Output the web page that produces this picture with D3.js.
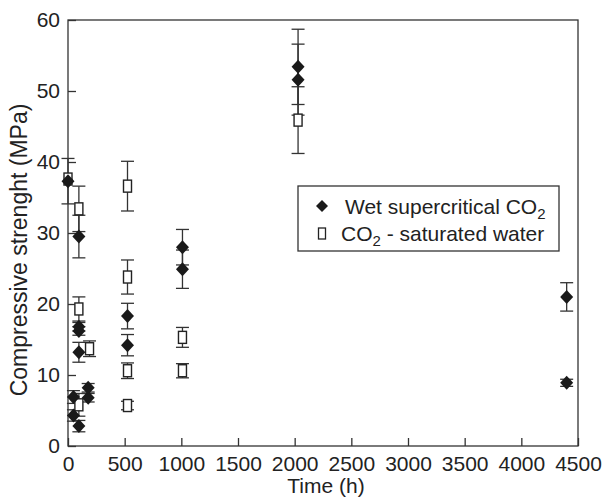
<!DOCTYPE html>
<html>
<head>
<meta charset="utf-8">
<script src="https://cdn.jsdelivr.net/npm/d3@7"></script>
<style>
  body { margin: 0; background: #fff; }
  text { font-family: "Liberation Sans", Arial, sans-serif; fill: #222; }
</style>
</head>
<body>
<div id="chart"></div>
<script>
// wet supercritical CO2 (filled diamonds)
const wetTime  = [0, 48, 48, 96, 96, 96, 96, 96, 178, 178, 525, 525, 1010, 1010, 2030, 2030, 4400, 4400];
const wetValue = [37.3, 6.9, 4.3, 2.8, 13.2, 16.2, 16.8, 29.5, 6.8, 8.2, 14.2, 18.3, 24.9, 28.0, 51.6, 53.4, 8.9, 21.0];
const wetErr   = [3.2, 0.9, 0.8, 0.8, 1.4, 0.6, 0.6, 3.0, 0.6, 0.6, 1.5, 1.8, 2.7, 2.5, 5.0, 5.3, 0.5, 2.0];

// CO2 - saturated water (open squares)
const satTime  = [0, 96, 96, 96, 190, 525, 525, 525, 525, 1010, 1010, 2030];
const satValue = [37.6, 33.4, 19.3, 5.8, 13.7, 36.6, 23.8, 10.6, 5.7, 15.3, 10.6, 45.9];
const satErr   = [0, 3.2, 1.7, 1.6, 1.1, 3.5, 2.4, 1.1, 0.6, 1.4, 1.0, 4.7];

const xTicks = [0, 500, 1000, 1500, 2000, 2500, 3000, 3500, 4000, 4500];
const yTicks = [0, 10, 20, 30, 40, 50, 60];

const legendLabels = ["Wet supercritical CO", "CO"];

var W = 608, H = 497;
var mLeft = 68, mRight = 578, mTop = 20, mBottom = 446;

var svg = d3.select("#chart")
    .append("svg")
    .attr("width", W)
    .attr("height", H);

var x = d3.scaleLinear().domain([0, 4500]).range([mLeft, mRight]);
var y = d3.scaleLinear().domain([0, 60]).range([mBottom, mTop]);

var axisColor = "#333";
var fontSize = "21px";

// frame
svg.append("rect")
    .attr("x", mLeft).attr("y", mTop)
    .attr("width", mRight - mLeft).attr("height", mBottom - mTop)
    .attr("fill", "none").attr("stroke", axisColor).attr("stroke-width", 1.3);

// x axis, ticks pointing inward
var xAxis = svg.append("g")
    .attr("transform", "translate(0," + mBottom + ")")
    .call(d3.axisBottom(x).tickValues(xTicks).tickFormat(d3.format("d"))
        .tickSizeInner(-8).tickSizeOuter(0).tickPadding(10));
xAxis.select(".domain").remove();
xAxis.selectAll("line").attr("stroke", axisColor).attr("stroke-width", 1.3);
xAxis.selectAll("text").style("font-size", fontSize).attr("fill", "#222")
    .style("font-family", "Liberation Sans, Arial, sans-serif");

var yAxis = svg.append("g")
    .attr("transform", "translate(" + mLeft + ",0)")
    .call(d3.axisLeft(y).tickValues(yTicks).tickFormat(d3.format("d"))
        .tickSizeInner(-8).tickSizeOuter(0).tickPadding(8));
yAxis.select(".domain").remove();
yAxis.selectAll("line").attr("stroke", axisColor).attr("stroke-width", 1.3);
yAxis.selectAll("text").style("font-size", fontSize).attr("fill", "#222")
    .style("font-family", "Liberation Sans, Arial, sans-serif");

// axis titles
svg.append("text")
    .attr("x", (mLeft + mRight) / 2 + 3).attr("y", 493)
    .attr("text-anchor", "middle")
    .style("font-size", fontSize)
    .text("Time (h)");

svg.append("text")
    .attr("transform", "translate(27,250) rotate(-90)")
    .attr("text-anchor", "middle")
    .style("font-size", "23px")
    .text("Compressive strenght (MPa)");

// build point lists
var wet = wetTime.map(function (t, i) { return {t: t, v: wetValue[i], e: wetErr[i]}; });
var sat = satTime.map(function (t, i) { return {t: t, v: satValue[i], e: satErr[i]}; });

function errorBars(data) {
    var cap = 6.5;
    var g = svg.append("g").attr("stroke", axisColor).attr("stroke-width", 1.3);
    data.filter(function (d) { return d.e > 0; }).forEach(function (d) {
        var cx = x(d.t), y1 = y(d.v + d.e), y2 = y(d.v - d.e);
        g.append("line").attr("x1", cx).attr("x2", cx).attr("y1", y1).attr("y2", y2);
        g.append("line").attr("x1", cx - cap).attr("x2", cx + cap).attr("y1", y1).attr("y2", y1);
        g.append("line").attr("x1", cx - cap).attr("x2", cx + cap).attr("y1", y2).attr("y2", y2);
    });
}

errorBars(sat);
errorBars(wet);

var diamondPath = "M0,-7L6.5,0L0,7L-6.5,0Z";

svg.selectAll(".sat")
    .data(sat)
    .enter().append("rect")
    .attr("class", "sat")
    .attr("x", function (d) { return x(d.t) - 4; })
    .attr("y", function (d) { return y(d.v) - 6; })
    .attr("width", 8).attr("height", 12)
    .attr("fill", "#fff").attr("stroke", "#222").attr("stroke-width", 1.4);

svg.selectAll(".wet")
    .data(wet)
    .enter().append("path")
    .attr("class", "wet")
    .attr("d", diamondPath)
    .attr("transform", function (d) { return "translate(" + x(d.t) + "," + y(d.v) + ")"; })
    .attr("fill", "#1a1a1a");

// legend
var lg = svg.append("g");
lg.append("rect")
    .attr("x", 298).attr("y", 186).attr("width", 261).attr("height", 65)
    .attr("fill", "#fff").attr("stroke", axisColor).attr("stroke-width", 1.3);
lg.append("path").attr("d", "M0,-6L6,0L0,6L-6,0Z").attr("transform", "translate(322,206)").attr("fill", "#1a1a1a");
lg.append("rect").attr("x", 318.5).attr("y", 228).attr("width", 7).attr("height", 11)
    .attr("fill", "#fff").attr("stroke", "#222").attr("stroke-width", 1.3);

var t1 = lg.append("text").attr("x", 345).attr("y", 214).style("font-size", fontSize);
t1.append("tspan").text(legendLabels[0]);
t1.append("tspan").attr("dy", 5).style("font-size", "15px").text("2");

var t2 = lg.append("text").attr("x", 341).attr("y", 241).style("font-size", fontSize);
t2.append("tspan").text(legendLabels[1]);
t2.append("tspan").attr("dy", 5).style("font-size", "15px").text("2");
t2.append("tspan").attr("dy", -5).text(" - saturated water");
</script>
</body>
</html>
